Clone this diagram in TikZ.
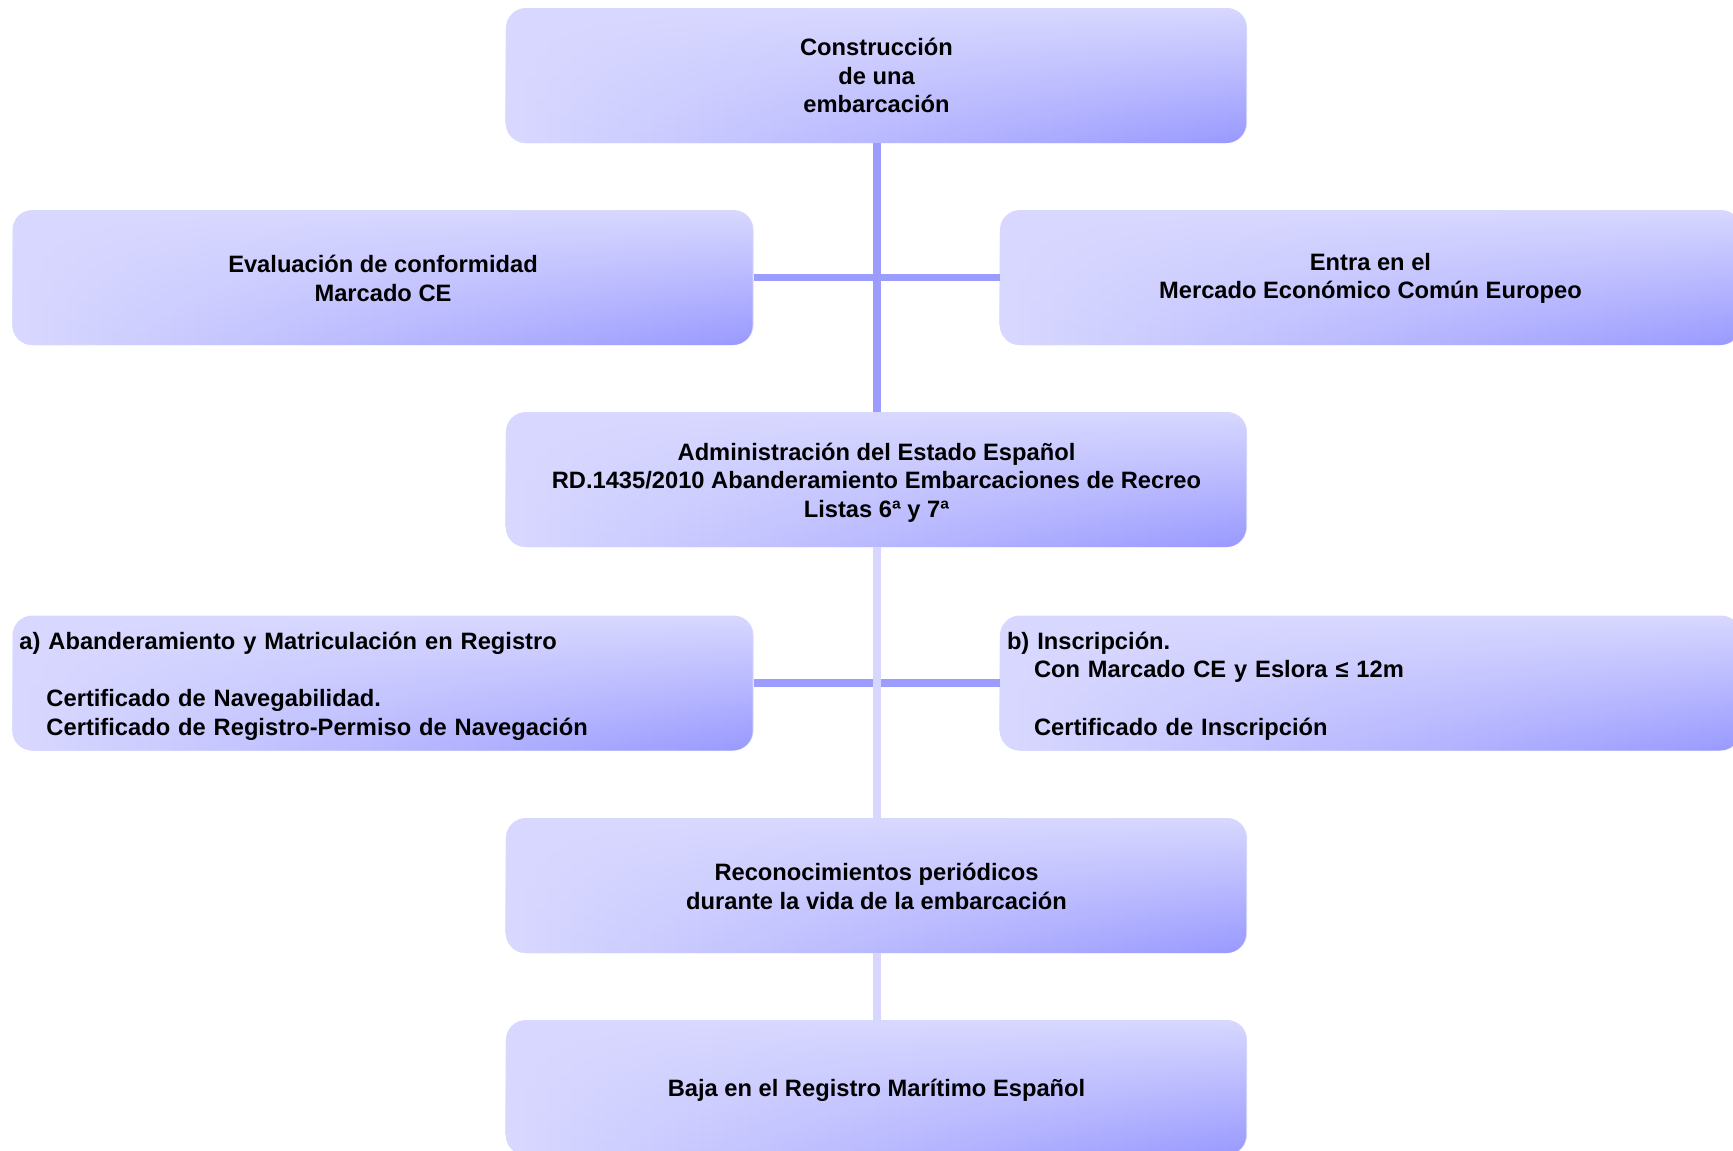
\documentclass[tikz,border=0pt]{standalone}
\usepackage{fontspec}
\setmainfont{Liberation Sans}
\usetikzlibrary{fadings}
\definecolor{boxlight}{RGB}{216,216,255}
\definecolor{boxdark}{RGB}{153,153,255}
\definecolor{linedark}{RGB}{156,156,255}
\definecolor{linelight}{RGB}{214,214,255}
\tikzset{
  box/.style={rounded corners=20pt, minimum width=741pt, minimum height=135pt,
    inner sep=0pt, fill=boxlight,
    postaction={path fading=north, left color=boxlight, right color=boxdark}},
  boxtext/.style={inner sep=0pt, align=center,
    font=\bfseries\fontsize{23.7}{28.7}\selectfont},
  lefttext/.style={boxtext, align=left, text width=727pt},
  darkline/.style={draw=linedark, line width=8pt},
  hline/.style={draw=linedark, line width=7.5pt},
  lightline/.style={draw=linelight, line width=8pt}
}
\begin{document}
\begin{tikzpicture}[x=1pt,y=-1pt]
\clip (0,0) rectangle (1733,1151);
\fill[white] (0,0) rectangle (1733,1151);
\node[box] (top) at (876.5,75.5) {};
\node[box] (l1) at (383,277.5) {};
\node[box] (r1) at (1370.5,277.5) {};
\node[box] (mid) at (876.5,479.5) {};
\node[box] (l2) at (383,683) {};
\node[box] (r2) at (1370.5,683) {};
\node[box] (b5) at (876.5,885.5) {};
\node[box] (b6) at (876.5,1087.5) {};
\draw[hline] (l1.east) -- (r1.west);
\draw[hline] (l2.east) -- (r2.west);
\draw[darkline] (top.south) -- (mid.north);
\draw[lightline] (mid.south) -- (b5.north);
\draw[lightline] (b5.south) -- (b6.north);
\node[boxtext] (topt) at (top.center) {Construcción\\de una\\embarcación};
\node[boxtext, yshift=-1pt] (l1t) at (l1.center) {Evaluación de conformidad\\Marcado CE};
\node[boxtext, yshift=-1pt] (r1t) at (r1.center) {Entra en el\\Mercado Económico Común Europeo};
\node[boxtext, yshift=-3pt] (midt) at (mid.center) {Administración del Estado Español\\RD.1435/2010 Abanderamiento Embarcaciones de Recreo\\Listas 6ª y 7ª};
\node[lefttext, yshift=-3pt] (l2t) at (l2.center) {a) Abanderamiento y Matriculación en Registro\\[28.7pt]\hspace*{27pt}Certificado de Navegabilidad.\\\hspace*{27pt}Certificado de Registro-Permiso de Navegación};
\node[lefttext, yshift=-3pt] (r2t) at (r2.center) {b) Inscripción.\\\hspace*{27pt}Con Marcado CE y Eslora ≤ 12m\\[28.7pt]\hspace*{27pt}Certificado de Inscripción};
\node[boxtext, yshift=-1pt] (b5t) at (b5.center) {Reconocimientos periódicos\\durante la vida de la embarcación};
\node[boxtext, yshift=-3pt] (b6t) at (b6.center) {Baja en el Registro Marítimo Español};
\end{tikzpicture}
\end{document}
